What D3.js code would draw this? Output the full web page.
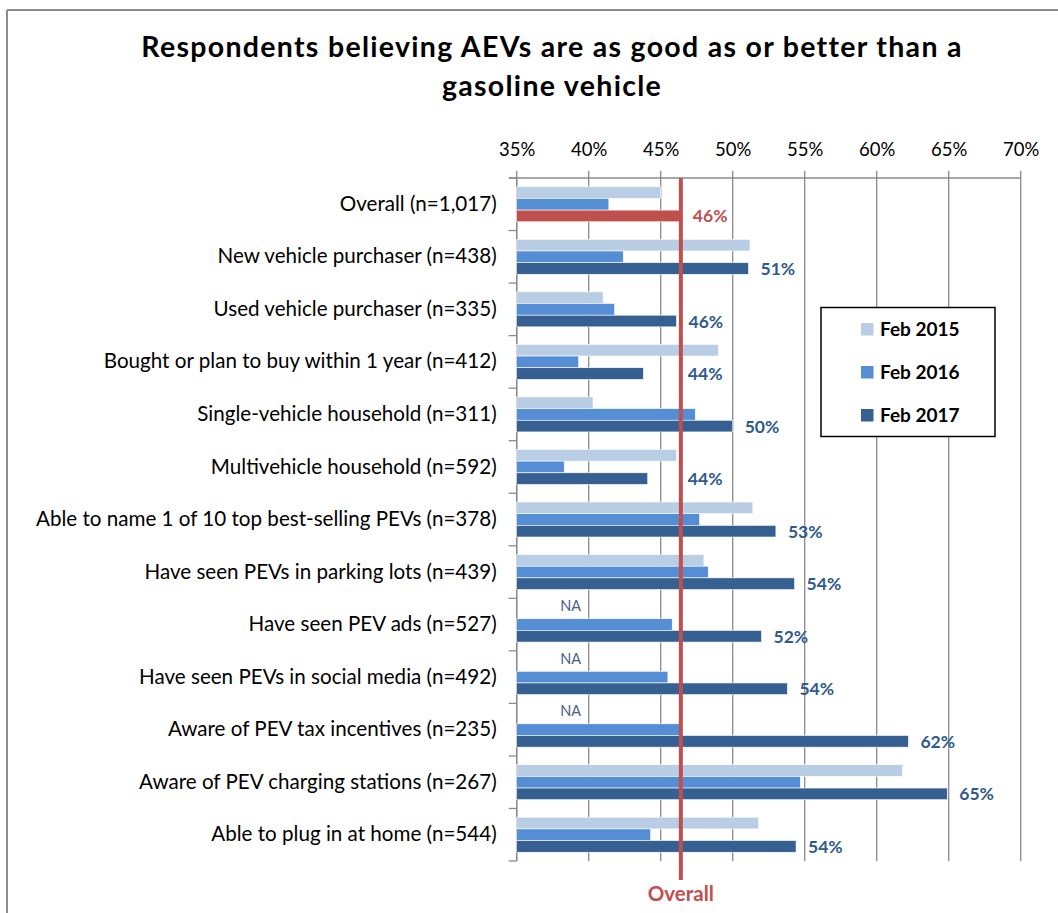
<!DOCTYPE html>
<html><head><meta charset="utf-8">
<script src="https://cdn.jsdelivr.net/npm/d3@7"></script>
<style>body{margin:0;background:#fff;} svg{display:block;font-family:Lato,"Open Sans",sans-serif;}</style>
</head><body>
<svg id="c" width="1058" height="913"></svg>
<script>
const categories = [
  "Overall (n=1,017)",
  "New vehicle purchaser (n=438)",
  "Used vehicle purchaser (n=335)",
  "Bought or plan to buy within 1 year (n=412)",
  "Single-vehicle household (n=311)",
  "Multivehicle household (n=592)",
  "Able to name 1 of 10 top best-selling PEVs (n=378)",
  "Have seen PEVs in parking lots (n=439)",
  "Have seen PEV ads (n=527)",
  "Have seen PEVs in social media (n=492)",
  "Aware of PEV tax incentives (n=235)",
  "Aware of PEV charging stations (n=267)",
  "Able to plug in at home (n=544)"
];
const seriesNames = ["Feb 2015", "Feb 2016", "Feb 2017"];
const feb2015 = [45.0, 51.2, 41.0, 49.0, 40.3, 46.1, 51.4, 48.0, null, null, null, 61.8, 51.8];
const feb2016 = [41.4, 42.4, 41.8, 39.3, 47.4, 38.3, 47.7, 48.3, 45.8, 45.5, 46.3, 54.7, 44.3];
const feb2017 = [46.4, 51.1, 46.1, 43.8, 50.0, 44.1, 53.0, 54.3, 52.0, 53.8, 62.2, 64.9, 54.4];
const labels2017 = ["46%","51%","46%","44%","50%","44%","53%","54%","52%","54%","62%","65%","54%"];
const overallValue = 46.4;
const xTicks = [35,40,45,50,55,60,65,70];
const naLabel = "NA";
const titleLines = ["Respondents believing AEVs are as good as or better than a", "gasoline vehicle"];
const overallLabel = "Overall";

const colors = ["#B9CDE5", "#558ED5", "#376092"];
const red = "#C0504D";
const labelBlue = "#2F5A8C";

const svg = d3.select("#c");
// frame
svg.append("line").attr("x1",7).attr("x2",1058).attr("y1",10).attr("y2",10).attr("stroke","#8c8c8c").attr("stroke-width",2);
svg.append("line").attr("x1",7).attr("x2",7).attr("y1",10).attr("y2",913).attr("stroke","#8c8c8c").attr("stroke-width",2);

// title
svg.append("g").selectAll("text").data(titleLines).join("text")
  .attr("x", 552).attr("y",(d,i)=>57+i*39).attr("text-anchor","middle")
  .attr("font-size",28.5).attr("font-weight","bold").attr("letter-spacing",1.3)
  .attr("fill","#000").text(d=>d);

const x = d3.scaleLinear().domain([35,70]).range([516.7,1020.7]);
const y = d3.scaleBand().domain(categories).range([178,861]).paddingInner(0).paddingOuter(0);
const ySub = d3.scaleBand().domain([0,1,2]).range([0,y.bandwidth()]).paddingInner(0).paddingOuter(0.75);

// gridlines
svg.append("g").selectAll("line").data(xTicks).join("line")
  .attr("x1",d=>x(d)).attr("x2",d=>x(d)).attr("y1",171).attr("y2",861)
  .attr("stroke","#8a8a8a").attr("stroke-width",1.3);

// top axis
const xAxis = d3.axisTop(x).tickValues(xTicks).tickFormat(d=>d+"%").tickSize(0).tickPadding(0);
const gx = svg.append("g").attr("transform","translate(0,156)").call(xAxis);
gx.select(".domain").remove();
gx.selectAll("text").attr("font-size",18.5).attr("fill","#000").attr("font-family","Lato,sans-serif").attr("dy",0);
svg.append("line").attr("x1",509).attr("x2",1021).attr("y1",178).attr("y2",178).attr("stroke","#8a8a8a").attr("stroke-width",1.3);

// left axis
const yAxis = d3.axisLeft(y).tickSize(0).tickPadding(20);
const gy = svg.append("g").attr("transform",`translate(${x(35)},0)`).call(yAxis);
gy.select(".domain").remove();
gy.selectAll("text").attr("font-size",20.6).attr("fill","#000").attr("font-family","Lato,sans-serif");
svg.append("line").attr("x1",x(35)).attr("x2",x(35)).attr("y1",178).attr("y2",861).attr("stroke","#8a8a8a").attr("stroke-width",1.3);
const bounds = d3.range(categories.length+1).map(i=>178+i*y.step());
svg.append("g").selectAll("line").data(bounds).join("line")
  .attr("x1",x(35)-8).attr("x2",x(35)).attr("y1",d=>d).attr("y2",d=>d)
  .attr("stroke","#8a8a8a").attr("stroke-width",1.3);

// bars
const series = [feb2015, feb2016, feb2017];
series.forEach((vals, s) => {
  const data = categories.map((c,i)=>({c,i,v:vals[i]})).filter(d=>d.v!=null);
  svg.append("g").selectAll("rect").data(data).join("rect")
    .attr("x", x(35)).attr("y", d=>y(d.c)+ySub(s))
    .attr("width", d=>x(d.v)-x(35)).attr("height", ySub.bandwidth())
    .attr("fill", d=> (s===2 && d.i===0) ? red : colors[s])
    .attr("stroke","#fff").attr("stroke-width",0.6);
});

// NA labels
const naData = categories.map((c,i)=>({c,i,v:feb2015[i]})).filter(d=>d.v==null && feb2016[d.i]!=null);
svg.append("g").selectAll("text").data(naData).join("text")
  .attr("x", x(38.75)).attr("y", d=>y(d.c)+ySub(0)+4).attr("text-anchor","middle")
  .attr("font-size",14.5).attr("fill","#4a6186").text(naLabel);

// overall line
svg.append("line").attr("x1",x(overallValue)).attr("x2",x(overallValue)).attr("y1",178).attr("y2",880)
  .attr("stroke",red).attr("stroke-width",4);
svg.append("text").attr("x",x(overallValue)).attr("y",901).attr("text-anchor","middle")
  .attr("font-size",20.5).attr("font-weight","bold").attr("fill",red).text(overallLabel);

// value labels
svg.append("g").selectAll("text").data(categories).join("text")
  .attr("x",(c,i)=>Math.max(x(feb2017[i]), x(overallValue)-5)+12)
  .attr("y",(c,i)=>y(c)+ySub(2)+ySub.bandwidth()/2+6.5)
  .attr("font-size",17.5).attr("font-weight","bold")
  .attr("fill",(c,i)=> i===0 ? red : labelBlue)
  .text((c,i)=>labels2017[i]);

// legend
const lg = svg.append("g");
lg.append("rect").attr("x",821).attr("y",307.5).attr("width",174).attr("height",129)
  .attr("fill","#fff").attr("stroke","#000").attr("stroke-width",1.5);
seriesNames.forEach((n,i)=>{
  lg.append("rect").attr("x",861).attr("y",323+i*43).attr("width",12.5).attr("height",12.5).attr("fill",colors[i]);
  lg.append("text").attr("x",880).attr("y",336+i*43).attr("font-size",19).attr("font-weight","bold").attr("fill","#000").text(n);
});
</script>
</body></html>
